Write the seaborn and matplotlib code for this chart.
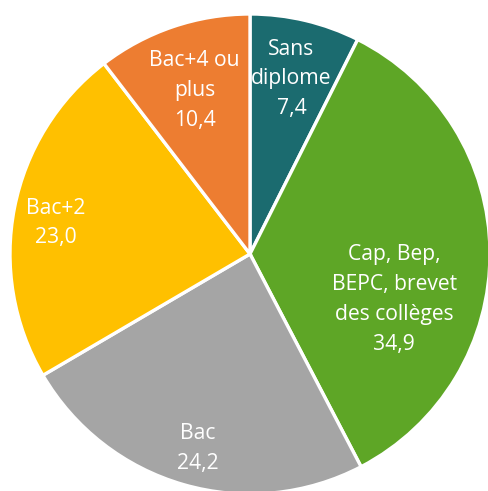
import numpy as np
import seaborn as sns
import matplotlib
matplotlib.use("Agg")
import matplotlib.pyplot as plt

# data (ordered clockwise from 12 o'clock)
labels = ["Sans\ndiplome", "Cap, Bep,\nBEPC, brevet\ndes collèges", "Bac", "Bac+2", "Bac+4 ou\nplus"]
values = [7.4, 34.9, 24.2, 23.0, 10.4]
value_text = ["7,4", "34,9", "24,2", "23,0", "10,4"]

colors = ["#1b6b6f", "#5ea626", "#a5a5a5", "#ffc000", "#ed7d31"]

sns.set_theme(style="white")
plt.rcParams["font.family"] = ["Open Sans", "DejaVu Sans"]

fig = plt.figure(figsize=(4.88, 4.91), dpi=100)
ax = fig.add_axes([0, 0, 1, 1])

wedges, _ = ax.pie(values, colors=colors, startangle=90, counterclock=False,
                   radius=1.0, wedgeprops=dict(edgecolor="white", linewidth=2.4))

# label placement (Excel "best fit"-like): radial fraction and angle tweak per slice
lab_r = [0.75, 0.63, 0.84, 0.82, 0.72]
lab_dang = [0, -18, 1, 2, 0]
for w, lab, vt, r, da in zip(wedges, labels, value_text, lab_r, lab_dang):
    ang = np.deg2rad((w.theta1 + w.theta2) / 2 + da)
    ax.text(r * np.cos(ang), r * np.sin(ang), lab + "\n" + vt, ha="center", va="center",
            color="white", fontsize=15.2, linespacing=1.55)

ax.set_xlim(-250 / 240, 238 / 240)
ax.set_ylim(-237 / 240, 254 / 240)
ax.set_aspect("auto")
ax.axis("off")

fig.savefig("out.png", dpi=100)
